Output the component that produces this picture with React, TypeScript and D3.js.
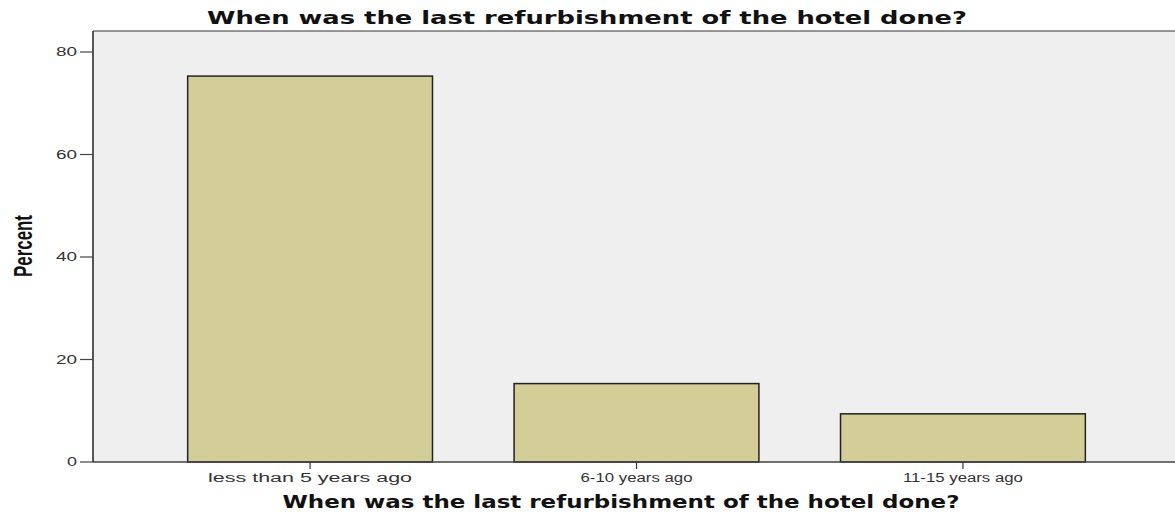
import React from "react";
import * as d3 from "d3";

const categories = ["less than 5 years ago", "6-10 years ago", "11-15 years ago"];
const percents = [75.3, 15.3, 9.4];
const yTicks = [0, 20, 40, 60, 80];
const chartTitle = "When was the last refurbishment of the hotel done?";
const xTitle = "When was the last refurbishment of the hotel done?";
const yTitle = "Percent";
const tickLabelWidths = [204, 112, 120];

export default function App() {
  const W = 1175, H = 516;
  const left = 93, right = 1180, top = 31, bottom = 462;
  const x = d3.scaleBand<string>().domain(categories).range([left, right]).paddingInner(0.25).paddingOuter(0.29);
  const y = d3.scaleLinear().domain([0, 80]).range([bottom, 52]);
  const font = "'Liberation Sans', Arial, sans-serif";
  const heavy = "'DejaVu Sans', 'Liberation Sans', sans-serif";
  return (
    <svg width={W} height={H} style={{ position: "absolute", left: 0, top: 0, background: "#fff" }}>
      <rect x={left} y={top} width={right - left} height={bottom - top} fill="#efefef" />
      <line x1={left} x2={right} y1={top} y2={top} stroke="#333" strokeWidth={1} />
      {categories.map((c, i) => (
        <rect key={c} x={x(c)} y={y(percents[i])} width={x.bandwidth()} height={bottom - y(percents[i])}
          fill="#d3ce97" stroke="#222" strokeWidth={1.5} />
      ))}
      <line x1={left} x2={right} y1={bottom} y2={bottom} stroke="#444" strokeWidth={1.5} />
      <line x1={left} x2={left} y1={top} y2={bottom} stroke="#222" strokeWidth={1.5} />
      {yTicks.map(t => (
        <g key={t}>
          <line x1={80} x2={left} y1={y(t)} y2={y(t)} stroke="#444" strokeWidth={1.2} />
          <text x={77} y={y(t)} dy="0.35em" textAnchor="end" fontFamily={font} fontSize={12}
            fill="#333" textLength={t === 0 ? 10 : 21} lengthAdjust="spacingAndGlyphs">{t}</text>
        </g>
      ))}
      {categories.map((c, i) => {
        const cx = x(c)! + x.bandwidth() / 2;
        return (
          <g key={c}>
            <line x1={cx} x2={cx} y1={bottom} y2={bottom + 7} stroke="#333" strokeWidth={1.2} />
            <text x={cx} y={482} textAnchor="middle" fontFamily={font} fontSize={12} fill="#333"
              textLength={tickLabelWidths[i]} lengthAdjust="spacingAndGlyphs">{c}</text>
          </g>
        );
      })}
      <text x={587} y={24} textAnchor="middle" fontFamily={heavy} fontWeight="bold" fontSize={17}
        fill="#111" textLength={760} lengthAdjust="spacingAndGlyphs">{chartTitle}</text>
      <text x={621} y={508} textAnchor="middle" fontFamily={heavy} fontWeight="bold" fontSize={17}
        fill="#111" textLength={677} lengthAdjust="spacingAndGlyphs">{xTitle}</text>
      <text transform="translate(32,246) rotate(-90)" textAnchor="middle" fontFamily={font} fontWeight="bold"
        fontSize={25} fill="#111" textLength={62} lengthAdjust="spacingAndGlyphs">{yTitle}</text>
    </svg>
  );
}
